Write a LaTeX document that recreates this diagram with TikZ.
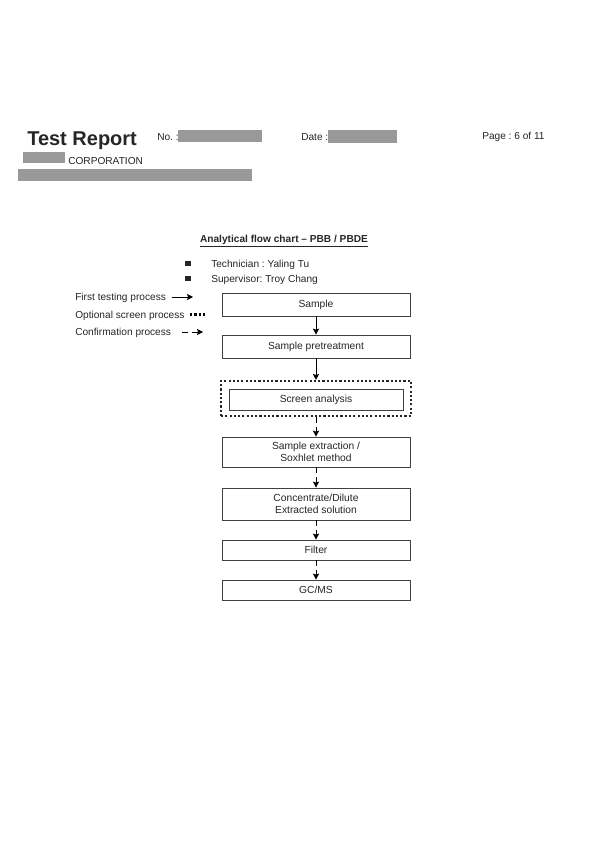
\documentclass[tikz,border=0pt]{standalone}
\usepackage{fontspec}
\setmainfont{Liberation Sans}
\usepackage{xcolor}
\usetikzlibrary{arrows.meta, positioning}
\frenchspacing

\tikzset{
    txt/.style={inner sep=0pt, text=black!85, font=\fontsize{7.6}{9}\selectfont},
    procbox/.style={draw=black!75, line width=0.6pt, inner sep=0pt, text=black!85,
        minimum width=141pt, align=center, font=\fontsize{7.7}{9.2}\selectfont},
    redact/.style={fill=black!40},
    firstline/.style={->, line width=0.7pt},
    screenline/.style={line width=1.6pt, dash pattern=on 1.6pt off 1.6pt},
    confirmline/.style={->, line width=0.7pt, dash pattern=on 4.5pt off 3pt}
}

\begin{document}
\begin{tikzpicture}[>={Stealth[length=4.5pt, width=4.6pt, inset=0.8pt]}, x=0.75pt, y=-0.75pt]

    \fill[white] (0,0) rectangle (600,849);
    \useasboundingbox (0,0) rectangle (600,849);

    % =================================================================
    % 1. HEADER OF THE REPORT
    % =================================================================
    \node[txt, anchor=base west, font=\bfseries\fontsize{15}{18}\selectfont] (Title) at (27,145) {Test Report};
    \node[txt, anchor=base west] (No) at (157,140) {No. :};
    \fill[redact] (178,130) rectangle (262,142);
    \node[txt, anchor=base west] (Date) at (301,140.5) {Date :};
    \fill[redact] (328,130) rectangle (397,143);
    \node[txt, anchor=base west] (Page) at (482,139) {Page : 6 of 11};

    % company name (partly covered) and address bar
    \node[txt, anchor=base west] (Corp) at (68,164) {CORPORATION};
    \fill[redact] (23,152) rectangle (65,163);
    \fill[redact] (18,169) rectangle (252,181);

    % =================================================================
    % 2. CHART TITLE AND STAFF
    % =================================================================
    \node[txt, anchor=base, font=\bfseries\fontsize{7.6}{9}\selectfont] (ChartTitle) at (284,242.5)
        {\underline{Analytical flow chart -- PBB / PBDE}};

    \node[fill=black!85, minimum size=3.8pt, inner sep=0pt] (BulletA) at (188,263.5) {};
    \node[fill=black!85, minimum size=3.8pt, inner sep=0pt] (BulletB) at (188,278.5) {};
    \node[txt, anchor=base west] (Tech) at (211,267) {Technician : Yaling Tu};
    \node[txt, anchor=base west] (Super) at (211,282) {Supervisor: Troy Chang};

    % =================================================================
    % 3. LEGEND OF THE LINE STYLES
    % =================================================================
    \node[txt, anchor=base west] (LegFirst) at (75,300.5) {First testing process};
    \node[txt, anchor=base west] (LegScreen) at (75,318) {Optional screen process};
    \node[txt, anchor=base west] (LegConf) at (75,335.5) {Confirmation process};

    \coordinate (FirstEnd) at (193,297);
    \coordinate (ScreenEnd) at (206,314.5);
    \coordinate (ConfEnd) at (203,332);

    \draw[firstline] ([xshift=4pt]LegFirst.east |- FirstEnd) -- (FirstEnd);
    \draw[screenline] ([xshift=4pt]LegScreen.east |- ScreenEnd) -- (ScreenEnd);
    \draw[confirmline] ([xshift=8pt]LegConf.east |- ConfEnd) -- (ConfEnd);

    % =================================================================
    % 4. THE PROCESS BOXES
    % =================================================================
    \node[procbox, minimum height=17.25pt] (Sample) at (316,304.5) {Sample};
    \node[procbox, minimum height=17.25pt] (Pretreat) at (316,346.5) {Sample pretreatment};

    % optional screen step: dotted frame round a plain box
    \node[draw=black!85, screenline, minimum width=142.5pt, minimum height=26.25pt, inner sep=0pt] (ScreenFrame) at (316,398.5) {};
    \node[procbox, minimum width=130.5pt, minimum height=15.75pt] (Screen) at (316,399.5) {Screen analysis};

    \node[procbox, minimum height=22.5pt] (Extract) at (316,452) {Sample extraction /\\Soxhlet method};
    \node[procbox, minimum height=24pt] (Conc) at (316,504) {Concentrate/Dilute\\Extracted solution};
    \node[procbox, minimum height=15pt] (Filter) at (316,550) {Filter};
    \node[procbox, minimum height=15pt] (GCMS) at (316,590) {GC/MS};

    % =================================================================
    % 5. CONNECTORS
    % =================================================================
    \draw[firstline] (Sample) -- (Pretreat);
    \draw[firstline] (Pretreat) -- (ScreenFrame);

    \draw[confirmline] (ScreenFrame) -- (Extract);
    \draw[confirmline] (Extract) -- (Conc);
    \draw[confirmline] (Conc) -- (Filter);
    \draw[confirmline] (Filter) -- (GCMS);

\end{tikzpicture}
\end{document}
